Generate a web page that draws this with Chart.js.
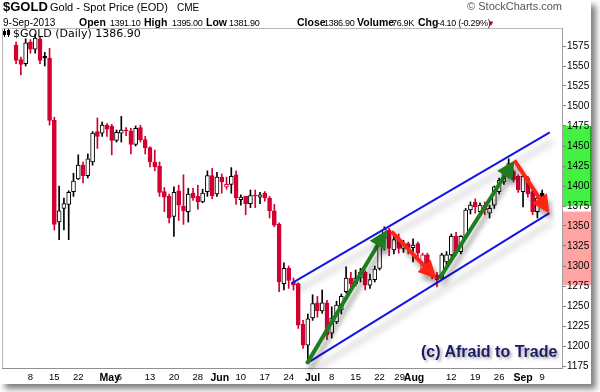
<!DOCTYPE html>
<html><head><meta charset="utf-8">
<script src="https://cdn.jsdelivr.net/npm/chart.js@4.4.1/dist/chart.umd.min.js"></script>
<style>
html,body{margin:0;padding:0;background:#fff;}
#wrap{position:relative;width:600px;height:392px;overflow:hidden;background:#fff;}
#frame{position:absolute;left:0;top:0;width:591px;height:384px;background:#fff;box-shadow:5px 5px 6px rgba(0,0,0,0.5);}
canvas{position:absolute;left:0;top:0;}
.t{position:absolute;white-space:nowrap;font-family:"Liberation Sans",Arial,sans-serif;font-size:11px;line-height:11px;color:#000;}
#l2{position:absolute;left:3px;top:15px;line-height:12px;white-space:nowrap;font-family:"Liberation Sans",Arial,sans-serif;color:#000;}
#l2 span{display:inline-block;overflow:visible;}
#l2 .k{font-weight:bold;font-size:10.5px;}
#l2 .v{font-size:9px;letter-spacing:-0.3px;}
#leg{position:absolute;left:13px;top:28px;font-family:"DejaVu Sans",sans-serif;font-size:11px;line-height:11px;white-space:nowrap;}
#ico{position:absolute;left:3px;top:29px;width:8px;height:8px;}
#ico i{position:absolute;background:#000;}
#copy{position:absolute;left:421px;top:344px;font-family:"Liberation Sans",Arial,sans-serif;font-weight:bold;font-size:16px;line-height:16px;color:#1a1a66;text-shadow:2px 2px 3px rgba(0,0,0,0.35);white-space:nowrap;}
</style></head>
<body>
<div id="wrap">
<div id="frame"></div>
<canvas id="c" width="600" height="392"></canvas>
<div class="t" style="left:3px;top:0px;font-size:13px;line-height:13px;font-weight:bold;">$GOLD</div>
<div class="t" style="left:50px;top:2px;">Gold - Spot Price (EOD)</div>
<div class="t" style="left:177px;top:3px;font-size:10px;line-height:10px;">CME</div>
<div class="t" style="right:38px;top:1px;color:#555;">© StockCharts.com</div>
<div id="l2"><span style="width:76px;font-size:10px;">9-Sep-2013</span><span class="k" style="width:31px">Open</span><span class="v" style="width:34px">1391.10</span><span class="k" style="width:28px">High</span><span class="v" style="width:34px">1395.00</span><span class="k" style="width:23px">Low</span><span class="v" style="width:68px">1381.90</span><span class="k" style="width:27px">Close</span><span class="v" style="width:33px">1386.90</span><span class="k" style="width:35px">Volume</span><span class="v" style="width:26px">76.9K</span><span class="k" style="width:19px">Chg</span><span class="v" style="width:50px">-4.10 (-0.29%)</span><span style="font-size:8px;color:#b0002a;">▼</span></div>
<div id="ico"><i style="left:1px;top:0;width:1px;height:8px"></i><i style="left:0;top:2px;width:3px;height:4px"></i><i style="left:5px;top:0;width:1px;height:8px"></i><i style="left:4px;top:1px;width:3px;height:5px"></i></div>
<div id="leg">$GOLD (Daily) 1386.90</div>
<div id="copy">(c) Afraid to Trade</div>
</div>
<script>
// ---- data ----
const tickLabels = ['8','15','22','May','6','13','20','28','Jun','10','17','24','Jul','8','15','22','29','Aug','12','19','26','Sep','9'];
const tickPos    = [3, 8, 13, 19.6, 21.6, 28, 33, 38, 42.6, 47, 52, 57, 62, 66, 71, 76, 80.2, 83.2, 91, 96, 101, 106, 110];
const boldLabels = ['May','Jun','Jul','Aug','Sep'];
const yTicks = [1175,1200,1225,1250,1275,1300,1325,1350,1375,1400,1425,1450,1475,1500,1525,1550,1575];

const opens  = [1576,1558,1553,1580,1571,1584,1562,1560,1482,1355,1372,1377,1393,1409,1426,1413,1430,1468,1466,1476,
                1475,1457,1466,1470,1469,1452,1473,1458,1448,1430,1425,1393,1387,1362,1394,1375,1368,1391,1387,1380,
                1393,1413,1390,1411,1399,1402,1414,1383,1387,1378,1388,1386,1391,1385,1369,1352,1278,1297,1280,1278,
                1227,1201,1235,1254,1244,1254,1216,1230,1245,1268,1285,1278,1285,1292,1276,1283,1297,1334,1345,1320,
                1333,1322,1328,1323,1328,1295,1314,1293,1289,1285,1305,1314,1337,1318,1337,1370,1380,1368,1376,1366,
                1376,1393,1405,1414,1418,1412,1393,1410,1393,1368,1391.1];
const highs  = [1580,1561,1584,1583,1590,1587,1567,1572,1486,1400,1385,1394,1416,1439,1430,1440,1468,1485,1480,1478,
                1477,1470,1487,1473,1472,1475,1476,1462,1449,1445,1430,1398,1390,1399,1401,1414,1397,1397,1401,1396,
                1419,1422,1417,1415,1411,1423,1419,1389,1387,1395,1395,1392,1393,1387,1377,1354,1304,1300,1285,1279,
                1232,1240,1264,1262,1270,1257,1249,1256,1265,1299,1292,1295,1297,1294,1290,1300,1338,1349,1347,1337,
                1340,1332,1330,1334,1330,1316,1316,1296,1292,1316,1318,1340,1342,1338,1372,1380,1384,1379,1380,1376,
                1400,1410,1420,1434,1420,1414,1414,1412,1395,1387,1395];
const lows   = [1553,1539,1550,1566,1566,1553,1550,1476,1345,1333,1345,1333,1387,1408,1404,1410,1426,1447,1462,1462,
                1439,1455,1455,1463,1440,1450,1455,1440,1424,1419,1387,1368,1354,1337,1357,1352,1355,1382,1371,1379,
                1387,1384,1387,1391,1396,1391,1377,1376,1364,1373,1373,1378,1381,1360,1349,1268,1270,1272,1270,1222,
                1197,1180,1232,1236,1241,1208,1210,1228,1240,1266,1270,1275,1280,1270,1272,1280,1295,1320,1313,1315,
                1316,1317,1315,1305,1310,1292,1290,1284,1274,1283,1300,1312,1314,1315,1335,1365,1366,1362,1364,1360,
                1372,1390,1402,1410,1405,1392,1374,1386,1364,1360,1381.9];
const closes = [1557,1552,1579,1571,1585,1557,1560,1482,1352,1369,1378,1392,1406,1426,1413,1434,1466,1462,1476,1471,
                1457,1467,1470,1469,1452,1472,1458,1448,1430,1424,1392,1386,1360,1392,1376,1369,1390,1385,1380,1391,
                1413,1388,1411,1405,1402,1412,1385,1386,1378,1388,1387.5,1389,1385,1369,1351,1280,1297,1282,1276,1226,
                1201,1234,1253,1244,1254,1214,1235,1251,1262,1285,1278,1285,1292,1276,1283,1296,1335,1346,1322,1333,
                1322,1328,1323,1326,1316,1314,1295,1287,1283,1314,1314,1337,1318,1337,1370,1376,1374,1376,1370,1372,
                1399,1407,1418,1428,1408,1395,1412,1390,1368,1385,1386.9];

const channelUpper = [{x:57.5, y:1278}, {x:111.6, y:1467}];
const channelLower = [{x:60.7, y:1178}, {x:111.5, y:1366}];
const arrowsGreen = [[60.8,1178,77.5,1345],[88.5,1284,104.2,1432]];
const arrowsRed   = [[78.5,1343,87.9,1284],[104.2,1432,111.5,1366]];
const bandGreen = [1375, 1475];
const bandRed   = [1276, 1368];

// ---- styles ----
const RED = '#d20032', BLACK = '#000000';
const idx = opens.map((_, i) => i);
const lineCol = closes.map((c, i) => (i > 0 ? c < closes[i-1] : c < opens[i]) ? RED : BLACK);
const bodyFill = closes.map((c, i) => c < opens[i] ? lineCol[i] : '#ffffff');

const shadowPlugin = {
  id: 'shadows',
  beforeDatasetDraw(chart, args) {
    const ds = chart.data.datasets[args.index];
    if (ds._shadow) {
      const ctx = chart.ctx; ctx.save();
      ctx.shadowColor = 'rgba(0,0,0,0.35)'; ctx.shadowBlur = 7; ctx.shadowOffsetX = 3; ctx.shadowOffsetY = 9;
    }
  },
  afterDatasetDraw(chart, args) {
    const ds = chart.data.datasets[args.index];
    if (ds._shadow) chart.ctx.restore();
  }
};

const framePlugin = {
  id: 'frame',
  beforeDraw(chart) {
    const {ctx, chartArea: a, scales: {y}} = chart;
    ctx.save();
    ctx.fillStyle = '#44f044';
    let t = y.getPixelForValue(bandGreen[1]), b = y.getPixelForValue(bandGreen[0]);
    ctx.fillRect(a.right, t, 29, b - t);
    ctx.fillStyle = '#1aa81a'; ctx.fillRect(a.right + 28, t, 1.5, b - t);
    ctx.fillStyle = '#ffa3a3';
    t = y.getPixelForValue(bandRed[1]); b = y.getPixelForValue(bandRed[0]);
    ctx.fillRect(a.right, t, 29, b - t);
    ctx.strokeStyle = '#b8b8b8'; ctx.lineWidth = 1;
    ctx.beginPath();
    ctx.moveTo(a.left + 0.5, a.bottom); ctx.lineTo(a.left + 0.5, a.top + 0.5); ctx.lineTo(a.right, a.top + 0.5);
    ctx.stroke();
    ctx.restore();
  }
};

function drawArrow(ctx, x0, y0, x1, y1, color) {
  const ang = Math.atan2(y1 - y0, x1 - x0);
  const hl = 18, hw = 9;
  const bx = x1 - hl * Math.cos(ang), by = y1 - hl * Math.sin(ang);
  ctx.strokeStyle = color; ctx.fillStyle = color; ctx.lineWidth = 4; ctx.lineCap = 'butt';
  ctx.beginPath(); ctx.moveTo(x0, y0); ctx.lineTo(bx + 2 * Math.cos(ang), by + 2 * Math.sin(ang)); ctx.stroke();
  ctx.beginPath();
  ctx.moveTo(x1, y1);
  ctx.lineTo(bx + hw * Math.sin(ang), by - hw * Math.cos(ang));
  ctx.lineTo(bx - hw * Math.sin(ang), by + hw * Math.cos(ang));
  ctx.closePath(); ctx.fill();
}

const arrowPlugin = {
  id: 'arrows',
  afterDatasetsDraw(chart) {
    const {ctx, scales: {x, y}} = chart;
    ctx.save();
    ctx.shadowColor = 'rgba(0,0,0,0.35)'; ctx.shadowBlur = 5; ctx.shadowOffsetX = 3; ctx.shadowOffsetY = 6;
    const put = (arr, col) => arr.forEach(a => drawArrow(ctx, x.getPixelForValue(a[0]), y.getPixelForValue(a[1]),
                                                       x.getPixelForValue(a[2]), y.getPixelForValue(a[3]), col));
    put(arrowsGreen, '#1e7d1e');
    put(arrowsRed, '#ff2414');
    ctx.restore();
  }
};

new Chart(document.getElementById('c'), {
  type: 'bar',
  data: {
    datasets: [
      { label: 'wick', data: idx.map(i => ({x: i, y: [lows[i], highs[i]]})),
        backgroundColor: lineCol, barThickness: 1, grouped: false, order: 3 },
      { label: 'body', data: idx.map(i => ({x: i, y: [opens[i], closes[i]]})),
        backgroundColor: bodyFill, borderColor: lineCol, borderWidth: 1, borderSkipped: false,
        barThickness: 4, minBarLength: 1, grouped: false, order: 2 },
      { type: 'line', label: 'upper', data: channelUpper, borderColor: '#1414e6', borderWidth: 2,
        pointRadius: 0, order: 1, _shadow: true },
      { type: 'line', label: 'lower', data: channelLower, borderColor: '#1414e6', borderWidth: 2,
        pointRadius: 0, order: 1, _shadow: true }
    ]
  },
  options: {
    responsive: false, animation: false, devicePixelRatio: 1,
    layout: { padding: { left: 2, top: 28, right: 0, bottom: 0 } },
    plugins: { legend: { display: false }, tooltip: { enabled: false }, title: { display: false } },
    scales: {
      x: {
        type: 'linear', min: -0.4, max: 111.6, position: 'bottom',
        afterFit: s => { s.height = 24; },
        afterBuildTicks: s => { s.ticks = tickPos.map(v => ({value: v})); },
        grid: { display: true, drawOnChartArea: false, drawTicks: false },
        border: { display: true, color: '#909090', dash: [1, 2] },
        ticks: {
          autoSkip: false, maxRotation: 0, padding: 4, color: '#000',
          callback: (v, i) => tickLabels[i],
          font: c => ({ family: 'Liberation Sans', size: boldLabels.includes(tickLabels[c.index]) ? 10.5 : 9.5,
                        weight: boldLabels.includes(tickLabels[c.index]) ? 'bold' : 'normal' })
        }
      },
      y: {
        type: 'linear', position: 'right', min: 1172.5, max: 1597.5,
        afterFit: s => { s.width = 38; },
        afterBuildTicks: s => { s.ticks = yTicks.map(v => ({value: v})); },
        grid: { display: true, drawOnChartArea: false, drawTicks: true, tickLength: 4, color: '#808080' },
        border: { display: true, color: '#a0a0a0' },
        ticks: { padding: 1, color: '#000', font: { family: 'Liberation Sans', size: 10 },
                 callback: v => String(v) }
      }
    }
  },
  plugins: [framePlugin, shadowPlugin, arrowPlugin]
});
</script>
</body></html>
